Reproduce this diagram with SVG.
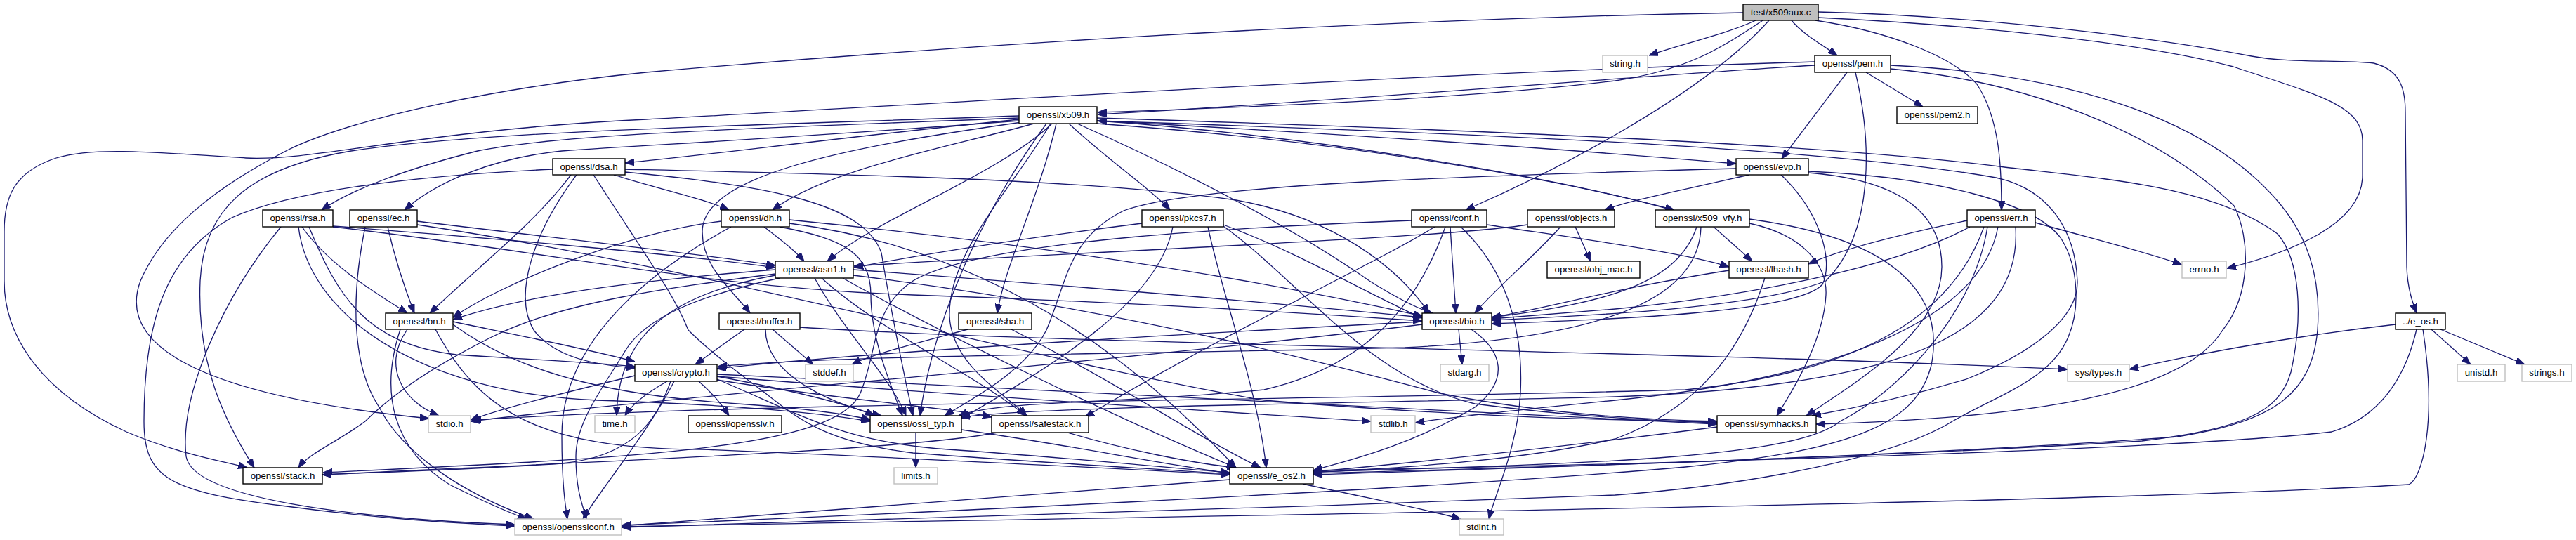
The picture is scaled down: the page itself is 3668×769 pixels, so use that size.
<svg xmlns="http://www.w3.org/2000/svg" width="3668" height="769" viewBox="0 0 3668 769">
<style>
.n rect{fill:#fff;stroke:#000;stroke-width:1.4}
.n.g rect{stroke:#bfbfbf}
.n.s rect{fill:#bfbfbf}
.n text{font-family:"Liberation Sans",Arial,sans-serif;font-size:13.3px;fill:#000;text-anchor:middle}
#edges path{fill:none;stroke:#191970;stroke-width:1.3;marker-end:url(#ah)}
</style>
<defs>
<marker id="ah" markerUnits="userSpaceOnUse" markerWidth="13" markerHeight="10" refX="13" refY="5" orient="auto"><path d="M0,0 L13,5 L0,10 z" fill="#191970" stroke="#191970"/></marker>
</defs>
<rect width="3668" height="769" fill="#fff"/>
<g id="edges">
<!-- test/x509aux.c -->
<path d="M2500,29 C2460,48 2390,64 2348,79"/>
<path d="M2551,29 C2565,47 2595,64 2616,79"/>
<path d="M2519,29 C2420,140 2200,250 2087,299"/>
<path d="M2510,29 C2450,70 2400,100 2300,115 C2100,140 1800,152 1563,160"/>
<path d="M2482,18 C1900,28 1300,70 920,103 C700,125 500,170 411,213 C300,270 230,330 200,400 C170,480 250,560 611,596"/>
<path d="M2589,17 C2800,22 3050,50 3206,80 C3260,90 3330,85 3380,90 C3420,100 3425,130 3425,160 L3427,380 C3428,410 3435,430 3441,446"/>
<path d="M2589,25 C2800,35 3050,60 3180,95 C3300,135 3364,150 3364,200 L3364,250 C3364,320 3260,360 3171,382"/>
<path d="M2585,29 C2690,45 2780,80 2815,120 C2848,170 2850,240 2850,299"/>
<!-- openssl/pem.h -->
<path d="M2584,93 C2300,110 1900,145 1563,163"/>
<path d="M2584,88 C2000,105 1300,150 920,170 C600,185 450,230 350,225 C200,215 130,210 80,225 C20,245 6,280 6,330 L6,400 C6,480 60,560 180,615 C250,645 310,655 352,666"/>
<path d="M2630,103 L2537,226"/>
<path d="M2642,103 C2665,200 2670,330 2600,400 C2500,440 2250,450 2124,456"/>
<path d="M2657,103 L2738,152"/>
<path d="M2692,98 C2880,115 3070,185 3181,293 C3205,340 3205,420 3165,470 C3110,560 2900,595 2586,604"/>
<path d="M2692,93 C2950,105 3130,170 3225,267 C3290,330 3305,400 3300,470 C3292,560 3240,600 3100,622 C2700,652 2100,668 1870,676"/>
<!-- openssl/x509.h -->
<path d="M1451,170 C1200,195 1000,222 890,232"/>
<path d="M1451,168 C1100,182 800,190 680,215 C580,240 500,270 458,299"/>
<path d="M1451,172 C1150,195 950,205 800,215 C700,225 620,260 576,299"/>
<path d="M1451,165 C1100,178 700,185 500,215 C350,240 290,300 285,400 C280,520 320,600 362,666"/>
<path d="M1472,176 C1350,210 1180,240 1100,299"/>
<path d="M1498,176 C1420,250 1250,310 1178,372"/>
<path d="M1455,174 C1200,210 1000,250 1000,330 C1000,380 1040,410 1068,446"/>
<path d="M1496,176 C1440,270 1350,360 1352,450 C1355,520 1430,560 1462,592"/>
<path d="M1504,176 C1480,280 1430,380 1420,446"/>
<path d="M1522,176 C1580,230 1640,270 1666,299"/>
<path d="M1534,176 C1700,250 1850,330 1950,400 C1990,425 2020,440 2040,446"/>
<path d="M1562,172 C1900,190 2200,210 2472,233"/>
<path d="M1562,176 C1900,200 2200,250 2384,299"/>
<path d="M1562,168 C2100,185 2600,205 2854,238 C3000,255 3150,265 3243,333 C3275,370 3280,450 3262,530 C3245,590 3190,610 3050,628 C2600,655 2100,668 1870,674"/>
<path d="M1562,172 C2100,190 2600,210 2842,253 C2920,270 2955,330 2958,400 C2960,450 2900,500 2800,540 C2700,570 2620,585 2580,592"/>
<path d="M1490,176 C1400,300 1330,450 1310,592"/>
<!-- openssl/evp.h -->
<path d="M2490,249 C2400,270 2320,285 2285,299"/>
<path d="M2536,249 C2590,300 2612,370 2595,405 C2560,445 2300,455 2124,461"/>
<path d="M2472,240 C2100,250 1700,262 1600,300 C1520,340 1520,400 1490,470 C1460,530 1380,570 1345,592"/>
<path d="M2575,244 C2760,252 2900,290 2935,340 C2960,380 2962,440 2945,480 C2920,540 2850,560 2780,600 C2700,650 2500,690 2300,705 C1800,725 1200,740 885,751"/>
<path d="M2575,246 C2700,256 2765,300 2765,380 C2765,470 2650,540 2572,592"/>
<!-- openssl/x509_vfy.h -->
<path d="M2381,299 C2200,248 1850,192 1563,172"/>
<path d="M2440,323 L2495,372"/>
<path d="M2416,323 C2390,400 2300,430 2124,452"/>
<path d="M2422,323 C2420,420 2300,480 2000,495 C1600,505 1200,505 1022,522"/>
<path d="M2491,318 C2570,335 2602,380 2600,420 C2597,480 2560,545 2530,592"/>
<path d="M2491,312 C2700,340 2770,420 2750,520 C2730,600 2650,640 2400,665 C2000,700 1200,735 885,748"/>
<!-- openssl/pkcs7.h -->
<path d="M1626,318 C1450,340 1300,365 1216,381"/>
<path d="M1742,320 C1850,360 1950,420 2025,453"/>
<path d="M1720,323 C1740,420 1790,550 1803,666"/>
<path d="M1742,322 C1850,400 1950,540 2100,575 C2250,595 2380,600 2445,602"/>
<path d="M1670,323 C1650,430 1500,520 1369,596"/>
<!-- openssl/conf.h -->
<path d="M2065,323 L2073,446"/>
<path d="M2117,320 C2250,340 2400,360 2462,380"/>
<path d="M2010,314 C1800,322 1400,340 1300,400 C1240,440 1250,500 1225,560 C1190,640 900,652 460,673"/>
<path d="M2043,323 C1950,380 1750,470 1545,594"/>
<path d="M2058,323 C2020,430 1950,520 1800,555 C1600,575 1420,570 1365,592"/>
<path d="M2080,323 C2140,380 2170,460 2165,560 C2160,640 2130,700 2120,739"/>
<!-- openssl/objects.h -->
<path d="M2243,323 L2265,372"/>
<path d="M2222,323 C2180,370 2130,410 2100,446"/>
<path d="M2175,320 C2050,340 1500,360 1216,379"/>
<!-- openssl/err.h -->
<path d="M2898,317 C2980,340 3060,360 3107,377"/>
<path d="M2805,323 C2700,380 2500,420 2300,440 C2200,448 2150,452 2124,454"/>
<path d="M2801,314 C2700,335 2620,355 2575,376"/>
<path d="M2830,323 C2810,450 2700,560 2620,600 C2560,650 2300,660 1870,672"/>
<path d="M2825,323 C2780,450 2650,530 2400,555 C1900,570 1100,572 672,598"/>
<path d="M2845,323 C2820,460 2600,540 2300,570 C2150,585 2060,595 2015,602"/>
<path d="M2870,323 C2880,480 2700,550 2300,565 C1900,575 1500,578 1368,594"/>
<!-- ../e_os.h -->
<path d="M3411,462 C3250,480 3100,510 3032,526"/>
<path d="M3462,469 L3518,519"/>
<path d="M3475,469 L3595,519"/>
<path d="M3441,469 C3420,560 3370,600 3320,615 C3100,640 2400,660 1870,670"/>
<path d="M3450,469 C3470,600 3450,680 3430,690 C3000,715 2000,730 885,750"/>
<!-- openssl/dsa.h -->
<path d="M787,241 C600,250 420,270 330,310 C240,360 205,450 205,600 C205,680 240,700 400,720 C550,740 650,745 733,749"/>
<path d="M813,249 C760,320 680,380 612,446"/>
<path d="M821,249 C760,330 730,420 760,470 C790,510 850,520 904,524"/>
<path d="M874,249 C940,270 1000,282 1038,299"/>
<path d="M845,249 C930,380 960,420 980,470 C1010,500 1050,530 1090,560 C1140,600 1180,630 1300,645 C1500,660 1650,668 1751,675"/>
<path d="M890,241 C1200,248 1550,255 1760,285 C1900,310 1990,380 2035,446"/>
<path d="M890,245 C1100,265 1230,290 1255,360 C1265,420 1280,500 1300,592"/>
<!-- openssl/rsa.h -->
<path d="M400,323 C320,420 255,560 265,650 C275,710 500,738 733,747"/>
<path d="M430,323 C470,380 540,420 580,446"/>
<path d="M474,322 C650,335 950,360 1104,381"/>
<path d="M474,323 C800,360 1000,410 1300,420 C1600,430 1850,445 2025,457"/>
<path d="M440,323 C480,420 520,490 650,505 C750,512 850,516 904,522"/>
<path d="M425,323 C440,450 600,560 850,570 C1000,575 1150,585 1239,600"/>
<!-- openssl/ec.h -->
<path d="M520,323 C500,420 500,520 540,580 C570,640 650,700 760,739"/>
<path d="M594,315 C800,340 1000,362 1104,378"/>
<path d="M594,320 C1000,380 1500,520 1800,570 C2100,595 2300,598 2445,601"/>
<path d="M552,323 C565,380 580,420 590,446"/>
<!-- openssl/dh.h -->
<path d="M1124,318 C1450,360 1650,550 1760,666"/>
<path d="M1041,323 C900,400 800,500 800,620 C800,690 805,720 808,739"/>
<path d="M1124,313 C1500,350 1800,400 2025,450"/>
<path d="M1088,323 C1110,340 1130,355 1145,372"/>
<path d="M1110,323 C1200,340 1240,360 1240,420 C1240,480 1265,540 1285,592"/>
<path d="M1027,315 C900,330 720,400 645,452"/>
<!-- openssl/asn1.h -->
<path d="M1104,392 C950,420 880,480 878,592"/>
<path d="M1200,396 C1350,480 1600,600 1760,666"/>
<path d="M1110,396 C1000,420 920,450 890,500 C860,550 820,600 820,650 C820,700 830,720 835,739"/>
<path d="M1215,384 C1500,405 1800,430 2025,452"/>
<path d="M1104,390 C950,410 800,430 700,480 C620,520 560,560 520,600 C480,630 440,645 425,666"/>
<path d="M1170,396 C1250,470 1400,540 1460,592"/>
<path d="M1215,392 C1600,440 1900,520 2050,560 C2200,590 2350,598 2445,600"/>
<path d="M1160,396 C1200,470 1270,540 1290,592"/>
<path d="M1104,384 C900,400 750,420 645,455"/>
<!-- openssl/bn.h -->
<path d="M580,469 C545,520 570,570 625,592"/>
<path d="M570,469 C540,560 560,640 640,690 C690,715 720,728 750,739"/>
<path d="M620,469 C680,580 760,640 1000,640 C1300,652 1600,668 1751,676"/>
<path d="M645,462 C750,540 900,565 1050,575 C1150,582 1210,590 1239,598"/>
<path d="M645,458 C750,480 850,500 904,515"/>
<!-- openssl/buffer.h -->
<path d="M1060,469 C1030,490 1010,505 990,519"/>
<path d="M1090,469 C1090,540 1200,580 1255,592"/>
<path d="M1100,469 L1158,519"/>
<path d="M1139,466 C1500,490 2400,500 2944,526"/>
<!-- openssl/sha.h -->
<path d="M1378,469 C1300,490 1240,505 1213,519"/>
<path d="M1440,469 C1600,550 1700,620 1795,666"/>
<!-- openssl/bio.h -->
<path d="M2077,469 L2082,519"/>
<path d="M2095,469 C2140,500 2150,540 2100,580 C2000,640 1900,660 1870,670"/>
<path d="M2025,462 C1600,515 1000,560 670,600"/>
<path d="M2025,458 C1600,480 1200,505 1021,525"/>
<!-- openssl/crypto.h -->
<path d="M1021,536 C1400,566 1800,590 1952,600"/>
<path d="M950,543 C920,560 900,575 890,592"/>
<path d="M1021,540 C1140,590 1200,630 1350,640 C1500,650 1650,665 1751,673"/>
<path d="M904,535 C800,560 720,580 670,598"/>
<path d="M955,543 C935,600 900,650 800,660 C650,670 520,673 459,676"/>
<path d="M1021,541 C1200,570 1350,580 1412,594"/>
<path d="M995,543 C1020,565 1030,580 1038,592"/>
<path d="M1021,536 C1150,560 1220,580 1245,592"/>
<path d="M960,543 C920,620 860,690 830,739"/>
<path d="M1021,533 C1600,560 2200,590 2445,604"/>
<!-- openssl/safestack.h -->
<path d="M1420,616 C1300,640 900,655 459,676"/>
<path d="M1520,616 C1600,640 1700,660 1760,666"/>
<!-- openssl/ossl_typ.h -->
<path d="M1369,612 C1500,630 1650,660 1751,674"/>
<path d="M1304,616 L1304,666"/>
<!-- openssl/symhacks.h -->
<path d="M2445,608 C2200,640 2000,660 1870,672"/>
<!-- openssl/lhash.h -->
<path d="M2513,396 C2480,500 2420,580 2300,625 C2150,660 1950,668 1870,673"/>
<path d="M2462,385 C2300,410 2200,440 2124,452"/>
<!-- openssl/e_os2.h -->
<path d="M1751,683 C1400,710 1100,735 885,749"/>
<path d="M1855,689 C1950,710 2030,725 2080,739"/>
</g>
<g id="n-x509aux" class="n s"><rect x="2482" y="6" width="107" height="23"/><text x="2535.5" y="22">test/x509aux.c</text></g>
<g id="n-string" class="n g"><rect x="2282" y="79" width="64" height="24"/><text x="2314" y="95">string.h</text></g>
<g id="n-pem" class="n"><rect x="2584" y="79" width="108" height="24"/><text x="2638" y="95">openssl/pem.h</text></g>
<g id="n-x509" class="n"><rect x="1451" y="152" width="111" height="24"/><text x="1506.5" y="168">openssl/x509.h</text></g>
<g id="n-pem2" class="n"><rect x="2701" y="152" width="115" height="24"/><text x="2758.5" y="168">openssl/pem2.h</text></g>
<g id="n-dsa" class="n"><rect x="787" y="226" width="103" height="23"/><text x="838.5" y="242">openssl/dsa.h</text></g>
<g id="n-evp" class="n"><rect x="2472" y="226" width="103" height="23"/><text x="2523.5" y="242">openssl/evp.h</text></g>
<g id="n-rsa" class="n"><rect x="374" y="299" width="100" height="24"/><text x="424" y="315">openssl/rsa.h</text></g>
<g id="n-ec" class="n"><rect x="498" y="299" width="96" height="24"/><text x="546" y="315">openssl/ec.h</text></g>
<g id="n-dh" class="n"><rect x="1027" y="299" width="97" height="24"/><text x="1075.5" y="315">openssl/dh.h</text></g>
<g id="n-pkcs7" class="n"><rect x="1626" y="299" width="116" height="24"/><text x="1684" y="315">openssl/pkcs7.h</text></g>
<g id="n-conf" class="n"><rect x="2010" y="299" width="107" height="24"/><text x="2063.5" y="315">openssl/conf.h</text></g>
<g id="n-objects" class="n"><rect x="2175" y="299" width="124" height="24"/><text x="2237" y="315">openssl/objects.h</text></g>
<g id="n-x509_vfy" class="n"><rect x="2357" y="299" width="134" height="24"/><text x="2424" y="315">openssl/x509_vfy.h</text></g>
<g id="n-err" class="n"><rect x="2801" y="299" width="97" height="24"/><text x="2849.5" y="315">openssl/err.h</text></g>
<g id="n-asn1" class="n"><rect x="1104" y="372" width="111" height="24"/><text x="1159.5" y="388">openssl/asn1.h</text></g>
<g id="n-obj_mac" class="n"><rect x="2203" y="372" width="132" height="24"/><text x="2269" y="388">openssl/obj_mac.h</text></g>
<g id="n-lhash" class="n"><rect x="2462" y="372" width="113" height="24"/><text x="2518.5" y="388">openssl/lhash.h</text></g>
<g id="n-errno" class="n g"><rect x="3107" y="372" width="63" height="24"/><text x="3138.5" y="388">errno.h</text></g>
<g id="n-bn" class="n"><rect x="549" y="446" width="96" height="23"/><text x="597" y="462">openssl/bn.h</text></g>
<g id="n-buffer" class="n"><rect x="1024" y="446" width="115" height="23"/><text x="1081.5" y="462">openssl/buffer.h</text></g>
<g id="n-sha" class="n"><rect x="1365" y="446" width="104" height="23"/><text x="1417" y="462">openssl/sha.h</text></g>
<g id="n-bio" class="n"><rect x="2025" y="446" width="99" height="23"/><text x="2074.5" y="462">openssl/bio.h</text></g>
<g id="n-e_os" class="n"><rect x="3411" y="446" width="71" height="23"/><text x="3446.5" y="462">../e_os.h</text></g>
<g id="n-crypto" class="n"><rect x="904" y="519" width="117" height="24"/><text x="962.5" y="535">openssl/crypto.h</text></g>
<g id="n-stddef" class="n g"><rect x="1147" y="519" width="68" height="24"/><text x="1181" y="535">stddef.h</text></g>
<g id="n-stdarg" class="n g"><rect x="2051" y="519" width="69" height="24"/><text x="2085.5" y="535">stdarg.h</text></g>
<g id="n-systypes" class="n g"><rect x="2944" y="519" width="88" height="24"/><text x="2988" y="535">sys/types.h</text></g>
<g id="n-unistd" class="n g"><rect x="3499" y="519" width="68" height="24"/><text x="3533" y="535">unistd.h</text></g>
<g id="n-strings" class="n g"><rect x="3591" y="519" width="71" height="24"/><text x="3626.5" y="535">strings.h</text></g>
<g id="n-stdio" class="n g"><rect x="610" y="592" width="60" height="24"/><text x="640" y="608">stdio.h</text></g>
<g id="n-time" class="n g"><rect x="847" y="592" width="57" height="24"/><text x="875.5" y="608">time.h</text></g>
<g id="n-opensslv" class="n"><rect x="980" y="592" width="133" height="24"/><text x="1046.5" y="608">openssl/opensslv.h</text></g>
<g id="n-ossl_typ" class="n"><rect x="1239" y="592" width="130" height="24"/><text x="1304" y="608">openssl/ossl_typ.h</text></g>
<g id="n-safestack" class="n"><rect x="1412" y="592" width="138" height="24"/><text x="1481" y="608">openssl/safestack.h</text></g>
<g id="n-stdlib" class="n g"><rect x="1952" y="592" width="63" height="24"/><text x="1983.5" y="608">stdlib.h</text></g>
<g id="n-symhacks" class="n"><rect x="2445" y="592" width="141" height="24"/><text x="2515.5" y="608">openssl/symhacks.h</text></g>
<g id="n-stack" class="n"><rect x="346" y="666" width="113" height="23"/><text x="402.5" y="682">openssl/stack.h</text></g>
<g id="n-limits" class="n g"><rect x="1273" y="666" width="62" height="23"/><text x="1304" y="682">limits.h</text></g>
<g id="n-e_os2" class="n"><rect x="1751" y="666" width="119" height="23"/><text x="1810.5" y="682">openssl/e_os2.h</text></g>
<g id="n-opensslconf" class="n g"><rect x="733" y="739" width="152" height="23"/><text x="809" y="755">openssl/opensslconf.h</text></g>
<g id="n-stdint" class="n g"><rect x="2078" y="739" width="63" height="23"/><text x="2109.5" y="755">stdint.h</text></g>
</svg>
